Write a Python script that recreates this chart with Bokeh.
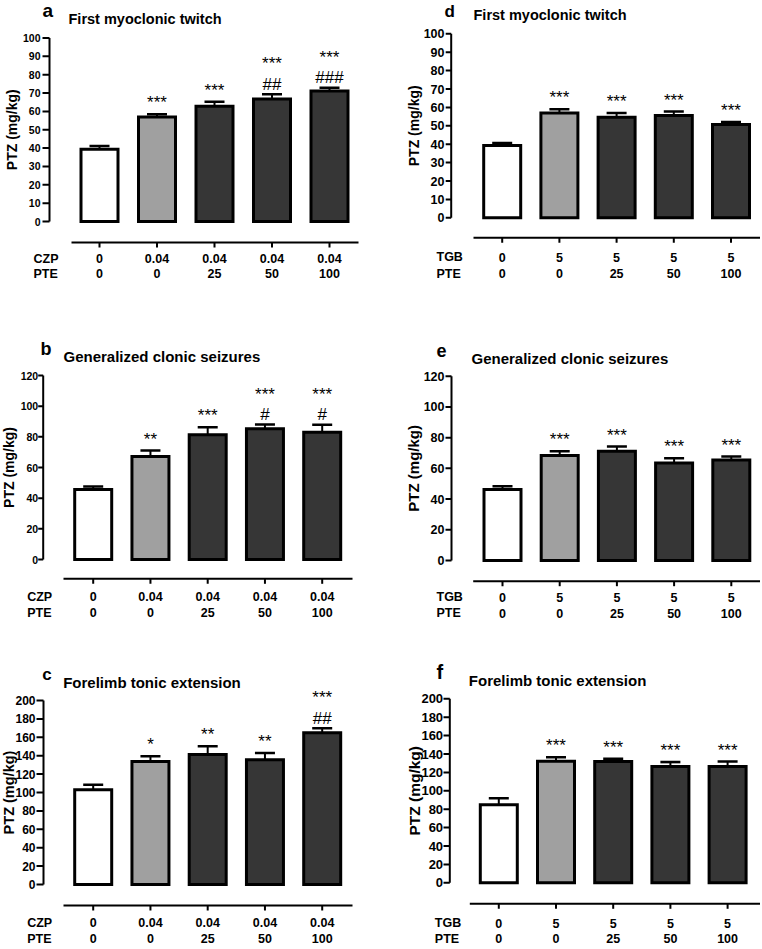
import math
from bokeh.plotting import figure
from bokeh.models import Range1d
from bokeh.layouts import gridplot
from bokeh.core.properties import value
from bokeh.embed import file_html
from bokeh.resources import INLINE

# ---------------- data ----------------
czp_levels = ["0", "0.04", "0.04", "0.04", "0.04"]
tgb_levels = ["0", "5", "5", "5", "5"]
pte_levels = ["0", "0", "25", "50", "100"]

ticks_100 = [0, 10, 20, 30, 40, 50, 60, 70, 80, 90, 100]
ticks_120 = [0, 20, 40, 60, 80, 100, 120]
ticks_200 = [0, 20, 40, 60, 80, 100, 120, 140, 160, 180, 200]

a_mean = [39.4, 57.0, 62.8, 66.8, 71.1]
a_sem = [1.7, 1.4, 2.4, 2.6, 1.8]
a_stars = ["", "***", "***", "***", "***"]
a_hash = ["", "", "", "##", "###"]

b_mean = [45.6, 67.2, 81.3, 85.2, 83.0]
b_sem = [2.0, 3.9, 5.0, 2.8, 4.8]
b_stars = ["", "**", "***", "***", "***"]
b_hash = ["", "", "", "#", "#"]

c_mean = [102.9, 133.7, 141.3, 135.5, 164.9]
c_sem = [5.4, 5.8, 9.1, 7.3, 5.0]
c_stars = ["", "*", "**", "**", "***"]
c_hash = ["", "", "", "", "##"]

d_mean = [39.3, 56.9, 54.7, 55.6, 50.7]
d_sem = [1.3, 2.1, 2.2, 2.2, 1.3]
d_stars = ["", "***", "***", "***", "***"]
d_hash = ["", "", "", "", ""]

e_mean = [46.2, 68.3, 71.1, 63.5, 65.5]
e_sem = [2.2, 2.8, 3.1, 3.0, 2.2]
e_stars = ["", "***", "***", "***", "***"]
e_hash = ["", "", "", "", ""]

f_mean = [84.8, 132.2, 131.9, 126.4, 126.4]
f_sem = [7.2, 4.4, 2.9, 4.8, 5.5]
f_stars = ["", "***", "***", "***", "***"]
f_hash = ["", "", "", "", ""]

bar_colors = ["#ffffff", "#a0a0a0", "#363636", "#363636", "#363636"]

FONT = "Liberation Sans"


def make_panel(g, letter, title, drug, levels, mean, sem, stars, hashes, yticks):
    W, H, sp = g["w"], g["h"], g["sp"]
    ymax = yticks[-1]
    ppu = (g["zero"] - g["top"]) / ymax
    n = len(mean)

    def X(px):
        return (px - g["axis"] - g["c0"]) / sp

    def Y(py):
        return (g["zero"] - py) / ppu

    p = figure(width=W, height=H, x_range=Range1d(X(0), X(W)), y_range=Range1d(Y(H), Y(0)),
               output_backend="svg", toolbar_location=None, tools="", min_border=0,
               x_axis_location=None, y_axis_location=None)
    p.min_border_left = p.min_border_right = p.min_border_top = p.min_border_bottom = 0
    p.outline_line_color = None
    p.xgrid.visible = False
    p.ygrid.visible = False
    p.background_fill_color = None
    p.border_fill_color = None

    def txt(x, y, t, size, align="center", style="bold", angle=0.0):
        p.text(x=x, y=y, text=t, angle=angle, text_font=value(FONT),
               text_font_size=value(size), text_font_style=value(style),
               text_align=value(align), text_baseline=value("middle"), text_color="black")

    # ---- y axis ----
    xa = X(g["axis"])
    p.segment(x0=[xa], y0=[0], x1=[xa], y1=[ymax], line_color="black", line_width=2)
    p.segment(x0=[X(g["axis"] - g["tick"])] * len(yticks), y0=yticks,
              x1=[xa] * len(yticks), y1=yticks, line_color="black", line_width=2)
    txt([X(g["axis"] - g["gap"])] * len(yticks), yticks, [str(t) for t in yticks],
        g["yfs"], align="right")
    txt([X(g["ylx"])], [ymax / 2], ["PTZ (mg/kg)"], g["ylfs"], angle=math.pi / 2)

    # ---- x axis (separate line below the bars) ----
    xs = list(range(n))
    yl = Y(g["xline"])
    p.segment(x0=[X(g["ls"])], y0=[yl], x1=[X(g["le"])], y1=[yl], line_color="black", line_width=2)
    p.segment(x0=xs, y0=[yl] * n, x1=xs, y1=[Y(g["xline"] + 5)] * n, line_color="black", line_width=2)
    txt(xs, [Y(g["r1"])] * n, levels, "12.5px")
    txt(xs, [Y(g["r2"])] * n, pte_levels, "12.5px")
    txt([X(g["hx"])], [Y(g["r1"])], [drug], "12.5px", align="left")
    txt([X(g["hx"])], [Y(g["r2"])], ["PTE"], "12.5px", align="left")

    # ---- bars and SEM ----
    p.vbar(x=xs, top=mean, bottom=0, width=37 / sp, fill_color=bar_colors,
           line_color="black", line_width=3, line_join="miter")
    tops = [m + s for m, s in zip(mean, sem)]
    p.segment(x0=xs, y0=mean, x1=xs, y1=tops, line_color="black", line_width=2)
    hw = 10 / sp
    p.segment(x0=[x - hw for x in xs], y0=tops, x1=[x + hw for x in xs], y1=tops,
              line_color="black", line_width=2.5)

    # ---- significance marks ----
    mx, my, mt = [], [], []
    for i in range(n):
        if hashes[i]:
            mx.append(i); my.append(tops[i] + 10 / ppu); mt.append(hashes[i])
            if stars[i]:
                mx.append(i); my.append(tops[i] + 30.4 / ppu); mt.append(stars[i])
        elif stars[i]:
            mx.append(i); my.append(tops[i] + 11.4 / ppu); mt.append(stars[i])
    txt(mx, my, mt, "17px", style="normal")

    # ---- panel letter and title ----
    txt([X(g["lx"])], [Y(g["ly"])], [letter], g["lfs"], align="left")
    txt([X(g["tx"])], [Y(g["ty"])], [title], g["tfs"], align="left")
    return p


# layout geometry (pixels inside each panel)
geo_a = dict(w=381, h=320, sp=57.5, axis=49, top=37.5, zero=221, xline=242, c0=50, ls=71, le=358,
             tick=7, gap=9, yfs="10.5px", ylx=11, ylfs="14px", r1=258.3, r2=273.3, hx=33,
             lx=42, ly=10.2, lfs="19px", tx=68, ty=18, tfs="14.5px")
geo_d = dict(w=379, h=320, sp=57.2, axis=69.7, top=33.3, zero=217.3, xline=237.3, c0=51, ls=92, le=381,
             tick=5.5, gap=6.7, yfs="12.5px", ylx=32.5, ylfs="14px", r1=256.7, r2=273.3, hx=55,
             lx=63, ly=10.6, lfs="17px", tx=92, ty=14, tfs="14.5px")
geo_b = dict(w=381, h=310, sp=57.25, axis=42.7, top=55, zero=239, xline=258.3, c0=50, ls=63, le=352,
             tick=5, gap=5, yfs="10.5px", ylx=8.5, ylfs="14px", r1=276, r2=292, hx=26.7,
             lx=40, ly=28.5, lfs="18px", tx=63, ty=36, tfs="15px")
geo_e = dict(w=379, h=310, sp=57.2, axis=70, top=55.7, zero=240, xline=260.7, c0=51, ls=91.7, le=381,
             tick=6, gap=7, yfs="12.5px", ylx=31.5, ylfs="15px", r1=276.7, r2=292.7, hx=55,
             lx=55, ly=29.5, lfs="18px", tx=90, ty=38.3, tfs="15px")
geo_c = dict(w=381, h=318, sp=57.25, axis=43, top=70, zero=254, xline=275, c0=49.7, ls=63, le=352,
             tick=7, gap=8, yfs="12px", ylx=8, ylfs="14.5px", r1=292, r2=308, hx=26.7,
             lx=41.7, ly=43.9, lfs="17px", tx=62.7, ty=51.7, tfs="15px")
geo_f = dict(w=379, h=318, sp=57.2, axis=68.3, top=68.3, zero=252.3, xline=273.3, c0=49, ls=88.3, le=381,
             tick=6.3, gap=6.7, yfs="13px", ylx=32.5, ylfs="15.5px", r1=292.7, r2=308.3, hx=53.3,
             lx=55, ly=41.1, lfs="20px", tx=87.3, ty=50, tfs="15px")

pa = make_panel(geo_a, "a", "First myoclonic twitch", "CZP", czp_levels, a_mean, a_sem, a_stars, a_hash, ticks_100)
pd = make_panel(geo_d, "d", "First myoclonic twitch", "TGB", tgb_levels, d_mean, d_sem, d_stars, d_hash, ticks_100)
pb = make_panel(geo_b, "b", "Generalized clonic seizures", "CZP", czp_levels, b_mean, b_sem, b_stars, b_hash, ticks_120)
pe = make_panel(geo_e, "e", "Generalized clonic seizures", "TGB", tgb_levels, e_mean, e_sem, e_stars, e_hash, ticks_120)
pc = make_panel(geo_c, "c", "Forelimb tonic extension", "CZP", czp_levels, c_mean, c_sem, c_stars, c_hash, ticks_200)
pf = make_panel(geo_f, "f", "Forelimb tonic extension", "TGB", tgb_levels, f_mean, f_sem, f_stars, f_hash, ticks_200)

grid = gridplot([[pa, pd], [pb, pe], [pc, pf]], toolbar_location=None)

open("out.html", "w").write(file_html(grid, INLINE))
